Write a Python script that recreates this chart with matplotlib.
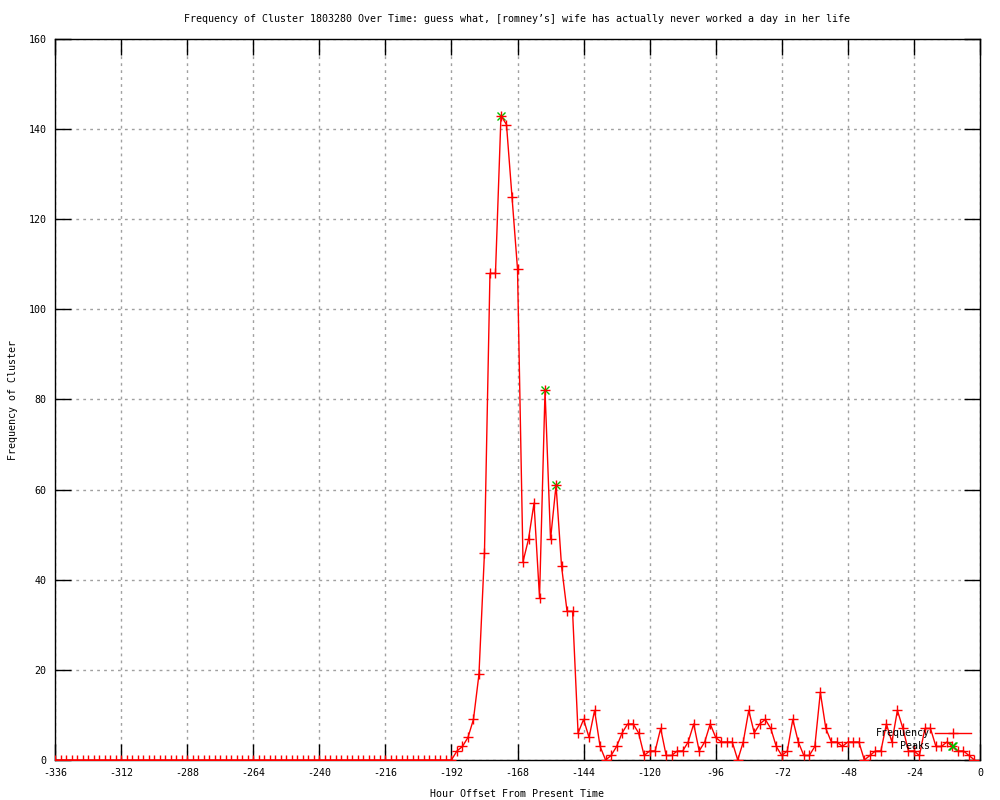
import numpy as np
import matplotlib
matplotlib.use("Agg")
import matplotlib.pyplot as plt

# Hour offsets (every 2 hours) and cluster frequency
hours = np.arange(-336, 0, 2)
freq_quiet = [0] * 72  # -336 .. -194
freq_active = [
    0, 2, 3, 5, 9, 19, 46, 108, 108, 143,      # -192 .. -174
    141, 125, 109, 44, 49, 57, 36, 82, 49, 61,  # -172 .. -154
    43, 33, 33, 6, 9, 5, 11, 3, 0, 1,           # -152 .. -134
    3, 6, 8, 8, 6, 1, 2, 2, 7, 1,               # -132 .. -114
    1, 2, 2, 4, 8, 2, 4, 8, 5, 4,               # -112 .. -94
    4, 4, 0, 4, 11, 6, 8, 9, 7, 3,              # -92 .. -74
    1, 2, 9, 4, 1, 1, 3, 15, 7, 4,              # -72 .. -54
    4, 3, 4, 4, 4, 0, 1, 2, 2, 8,               # -52 .. -34
    4, 11, 7, 2, 2, 1, 7, 7, 3, 3,              # -32 .. -14
    4, 3, 2, 2, 1, 0,                           # -12 .. -2
]
frequency = freq_quiet + freq_active

peak_hours = [-174, -158, -154, -10]
peak_values = [143, 82, 61, 3]

title = ("Frequency of Cluster 1803280 Over Time: guess what, "
         "[romney\u2019s] wife has actually never worked a day in her life")
xticks = list(range(-336, 1, 24))
yticks = list(range(0, 161, 20))

plt.rcParams['font.family'] = ['DejaVu Sans Mono', 'DejaVu Sans']
fs = 7.2

fig = plt.figure(figsize=(10, 8), dpi=100)
ax = fig.add_axes([0.055, 0.05, 0.925, 0.90125])

ax.plot(hours, frequency, color='red', lw=1.0, marker='+', ms=7, mew=1.0,
        label='Frequency', zorder=3)
ax.plot(peak_hours, peak_values, linestyle='none', color='#00c000', marker='x',
        ms=6, mew=1.0, label='Peaks', zorder=2)

ax.set_xlim(-336, 0)
ax.set_ylim(0, 160)
ax.set_xticks(xticks)
ax.set_yticks(yticks)
ax.set_xticklabels([str(t) for t in xticks], fontsize=fs)
ax.set_yticklabels([str(t) for t in yticks], fontsize=fs)
ax.tick_params(direction='in', length=11.5, width=1, color='black',
               top=True, right=True, pad=6)
ax.grid(True, color='#a0a0a0', linestyle=(0, (2, 3)), linewidth=1.0)
for sp in ax.spines.values():
    sp.set_linewidth(1.0)
    sp.set_color('black')

ax.set_title(title, fontsize=fs, pad=12)
ax.set_xlabel('Hour Offset From Present Time', fontsize=fs, labelpad=8)
ax.set_ylabel('Frequency of Cluster', fontsize=fs)
ax.yaxis.set_label_coords(-0.040, 0.5)

leg = ax.legend(loc='lower right', bbox_to_anchor=(0.99, 0.012), frameon=False,
                markerfirst=False, fontsize=fs, handlelength=3.6,
                handletextpad=0.5, labelspacing=0.3, borderpad=0,
                borderaxespad=0)

fig.savefig('out.png', dpi=100)
